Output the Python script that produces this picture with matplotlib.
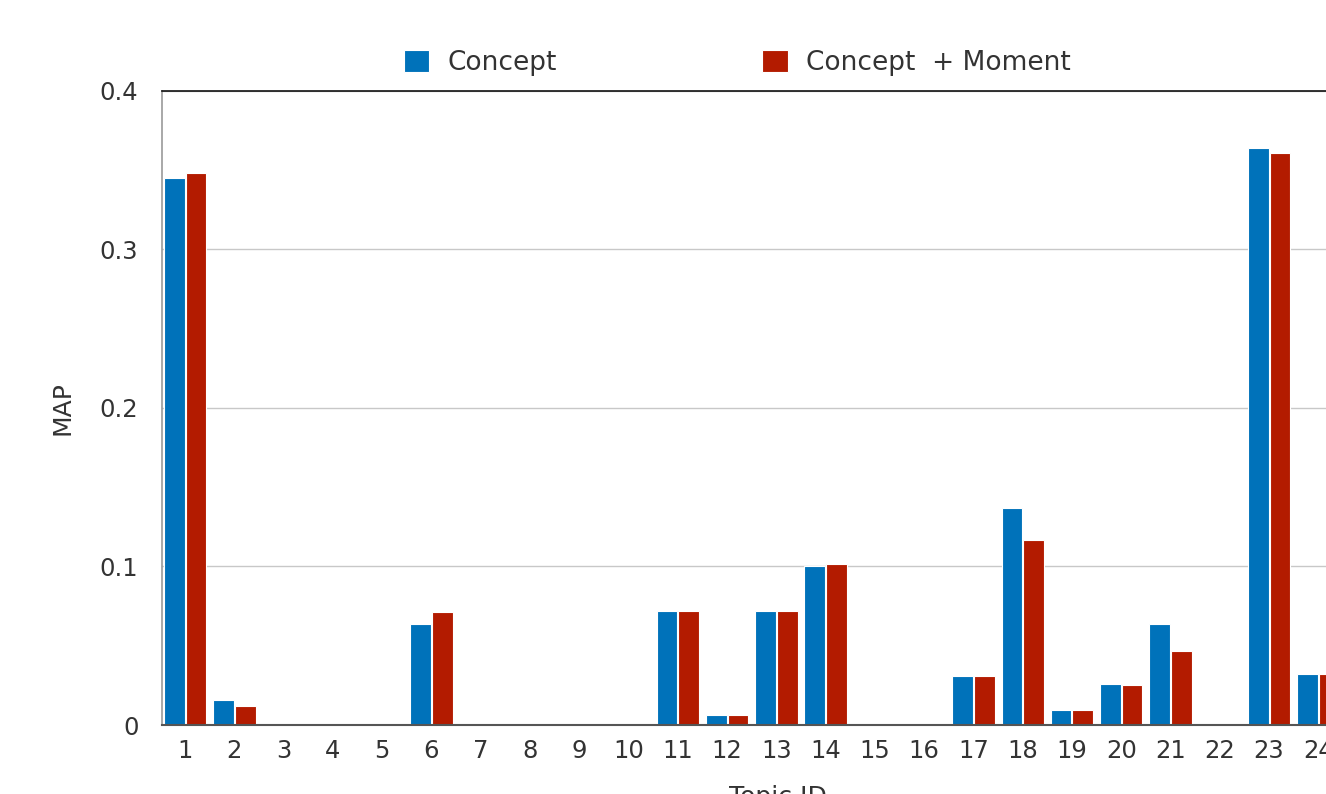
import matplotlib.pyplot as plt
import numpy as np

plt.rcParams['font.family'] = ['DejaVu Sans']

# topic ids and MAP values
topics = list(range(1, 25))
concept = [0.345, 0.0158, 0, 0, 0, 0.0637, 0, 0, 0, 0, 0.072, 0.0063,
           0.072, 0.100, 0, 0, 0.031, 0.137, 0.0095, 0.026, 0.064, 0, 0.364, 0.032]
concept_moment = [0.348, 0.012, 0, 0, 0, 0.0713, 0, 0, 0, 0, 0.072, 0.0063,
                  0.072, 0.1016, 0, 0, 0.031, 0.117, 0.0095, 0.025, 0.047, 0, 0.361, 0.032]
yticks = [0, 0.1, 0.2, 0.3, 0.4]
ytick_labels = ['0', '0.1', '0.2', '0.3', '0.4']
series_names = ['Concept', 'Concept  + Moment']

blue = '#0072BA'
red = '#B31B00'

fig = plt.figure(figsize=(13.26, 7.94), dpi=100)
ax = fig.add_axes([0.1222, 0.0869, 0.929, 0.7985])

x = np.array(topics)
w = 0.42
b1 = ax.bar(x - 0.22, concept, width=w, color=blue, edgecolor='white', linewidth=0.8,
            label=series_names[0], zorder=2)
b2 = ax.bar(x + 0.22, concept_moment, width=w, color=red, edgecolor='white', linewidth=0.8,
            label=series_names[1], zorder=2)

ax.set_xlim(0.533, 25.533)
ax.set_ylim(0, 0.4)
ax.set_yticks(yticks)
ax.set_yticklabels(ytick_labels)
ax.set_xticks(x)
ax.set_xticklabels([str(t) for t in topics])
ax.tick_params(axis='x', length=0, pad=10, labelsize=17.5, labelcolor='#333333')
ax.tick_params(axis='y', length=0, pad=17, labelsize=17.5, labelcolor='#333333')

ax.grid(axis='y', color='#c8c8c8', linewidth=1, zorder=0)
ax.set_axisbelow(True)

ax.spines['right'].set_visible(False)
ax.spines['top'].set_color('#111111')
ax.spines['top'].set_linewidth(1.2)
ax.spines['left'].set_color('#999999')
ax.spines['left'].set_linewidth(1.2)
ax.spines['bottom'].set_color('#555555')
ax.spines['bottom'].set_linewidth(1.5)
for s in ax.spines.values():
    s.set_zorder(3)

ax.set_ylabel('MAP', fontsize=18, color='#333333', labelpad=18)
ax.set_xlabel('Topic ID', fontsize=18, color='#333333', labelpad=16)

fig.legend(handles=[b1, b2], labels=series_names, loc='center',
           bbox_to_anchor=(0.556, 0.921), ncol=2, frameon=False,
           fontsize=19, handlelength=0.95, handleheight=0.95,
           columnspacing=7.8, handletextpad=0.7, labelcolor='#333333')

fig.savefig('out.png', dpi=100)
